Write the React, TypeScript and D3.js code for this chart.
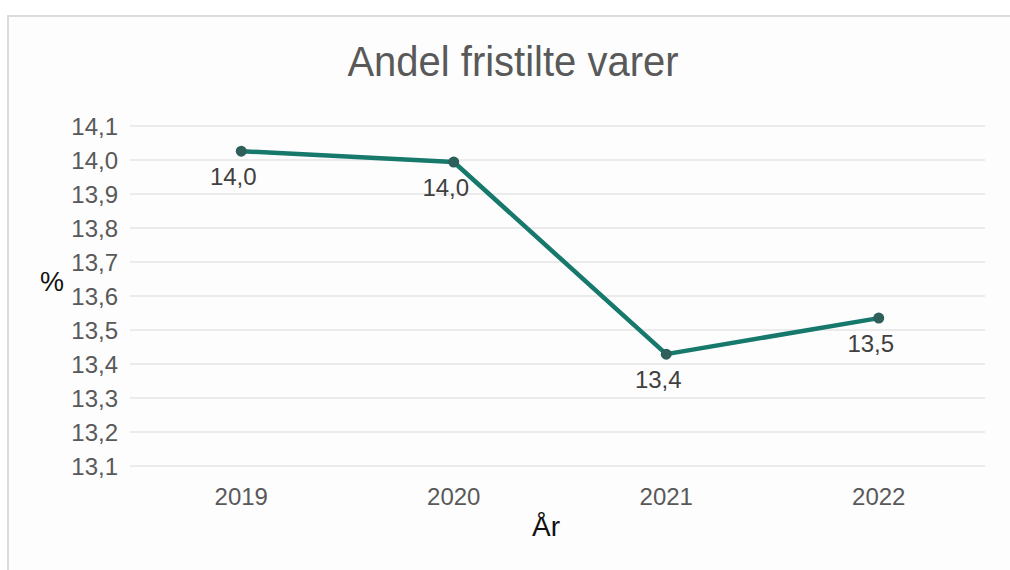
import React from "react";
import * as d3 from "d3";

const categories = ["2019", "2020", "2021", "2022"];
const values = [14.026, 13.994, 13.429, 13.535];
const valueLabels = ["14,0", "14,0", "13,4", "13,5"];
const yTicks = [13.1, 13.2, 13.3, 13.4, 13.5, 13.6, 13.7, 13.8, 13.9, 14.0, 14.1];

const W = 1010;
const H = 570;
const FONT = "'Liberation Sans', Helvetica, Arial, sans-serif";

export default function App() {
  const x = d3.scaleBand<string>().domain(categories).range([135, 985]);
  const y = d3.scaleLinear().domain([13.1, 14.1]).range([466, 126]);
  const cx = (i: number) => (x(categories[i]) as number) + x.bandwidth() / 2;
  const line = d3
    .line<number>()
    .x((_, i) => cx(i))
    .y((d) => y(d));
  const fmt = (v: number) => d3.format(".1f")(v).replace(".", ",");

  return (
    <svg
      width={W}
      height={H}
      style={{ position: "absolute", left: 0, top: 0, background: "#ffffff" }}
      fontFamily={FONT}
    >
      <rect x={8} y={16} width={W + 10} height={H} fill="#fdfdfd" stroke="#dcdcdc" strokeWidth={2} />
      <text x={513} y={76} textAnchor="middle" fontSize={40} fill="#595959" transform="translate(0,76) scale(1,1.08) translate(0,-76)">
        Andel fristilte varer
      </text>
      {yTicks.map((t) => (
        <g key={t}>
          <line x1={130} x2={985} y1={y(t)} y2={y(t)} stroke="#d9d9d9" strokeWidth={1.2} />
          <text x={118} y={y(t) + 8.5} textAnchor="end" fontSize={24} fill="#595959">
            {fmt(t)}
          </text>
        </g>
      ))}
      {categories.map((c, i) => (
        <text key={c} x={cx(i)} y={505} textAnchor="middle" fontSize={24} fill="#595959">
          {c}
        </text>
      ))}
      <text x={546} y={536} textAnchor="middle" fontSize={28} fill="#111">
        År
      </text>
      <text x={52} y={291} textAnchor="middle" fontSize={27} fill="#111">
        %
      </text>
      <path d={line(values) || ""} fill="none" stroke="#17786c" strokeWidth={4.5} strokeLinejoin="round" />
      {values.map((v, i) => (
        <g key={i}>
          <circle cx={cx(i)} cy={y(v)} r={5.5} fill="#2e5f5a" />
          <text x={cx(i) - 8} y={y(v) + 34} textAnchor="middle" fontSize={24} fill="#404040">
            {valueLabels[i]}
          </text>
        </g>
      ))}
    </svg>
  );
}
